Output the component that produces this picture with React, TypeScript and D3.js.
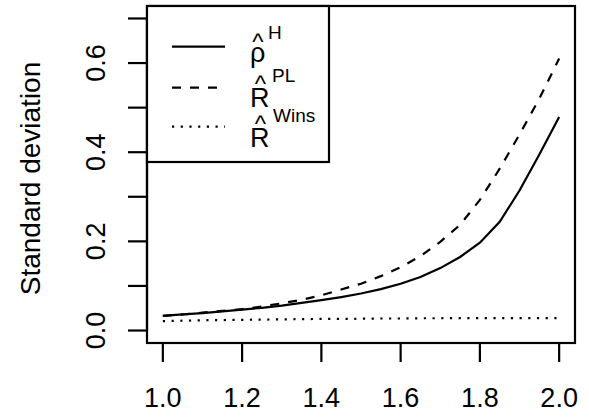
import React from "react";
import * as d3 from "d3";

// Series sampled at r = 1.00, 1.05, ..., 2.00
const rValues = [1.0, 1.05, 1.1, 1.15, 1.2, 1.25, 1.3, 1.35, 1.4, 1.45, 1.5, 1.55, 1.6, 1.65, 1.7, 1.75, 1.8, 1.85, 1.9, 1.95, 2.0];
const rhoH = [0.033, 0.036, 0.039, 0.043, 0.047, 0.051, 0.056, 0.062, 0.068, 0.075, 0.083, 0.093, 0.105, 0.12, 0.14, 0.165, 0.197, 0.244, 0.314, 0.395, 0.479];
const rPL = [0.033, 0.036, 0.04, 0.044, 0.048, 0.054, 0.061, 0.069, 0.079, 0.092, 0.105, 0.122, 0.142, 0.167, 0.199, 0.237, 0.293, 0.363, 0.44, 0.52, 0.61];
const rWins = [0.021, 0.022, 0.023, 0.0235, 0.024, 0.0245, 0.025, 0.0255, 0.026, 0.026, 0.0265, 0.027, 0.027, 0.0275, 0.0275, 0.028, 0.028, 0.028, 0.028, 0.028, 0.028];

const xTicks = [1.0, 1.2, 1.4, 1.6, 1.8, 2.0];
const yTicks = [0, 0.1, 0.2, 0.3, 0.4, 0.5, 0.6, 0.7];
const yLabeled = [0, 0.2, 0.4, 0.6];

const W = 589;
const H = 417;
const FONT = "'Liberation Sans', Arial, Helvetica, sans-serif";

// plot region
const box = { left: 147, right: 575, top: 6, bottom: 343 };

const DOTTED = "2.2,6.5";
const DASHED = "9,9";

export default function App() {
  const xDomain: [number, number] = [1.0, 2.0];
  const yDomain: [number, number] = [0, 0.7];
  const xPad = (xDomain[1] - xDomain[0]) * 0.04;
  const yPad = (yDomain[1] - yDomain[0]) * 0.04;
  const x = d3.scaleLinear().domain([xDomain[0] - xPad, xDomain[1] + xPad]).range([box.left, box.right]);
  const y = d3.scaleLinear().domain([yDomain[0] - yPad, yDomain[1] + yPad]).range([box.bottom, box.top]);

  const line = d3
    .line<[number, number]>()
    .x((d) => x(d[0]))
    .y((d) => y(d[1]));

  const series = [
    { values: rhoH, dash: undefined as string | undefined },
    { values: rPL, dash: DASHED },
    { values: rWins, dash: DOTTED },
  ];

  const tickLen = 19;
  const lw = 2.2;

  // legend geometry
  const lg = { left: box.left, top: box.top, right: 329, bottom: 162 };
  const legendRows = [
    { lineY: 46.7, dash: undefined as string | undefined, base: "ρ", baseY: 61.5, hatX: 258, hatY: 50, sup: "H", supX: 268, supY: 39 },
    { lineY: 87.7, dash: DASHED, base: "R", baseY: 106.7, hatX: 260.5, hatY: 92, sup: "PL", supX: 272, supY: 81.7 },
    { lineY: 126.7, dash: DOTTED, base: "R", baseY: 146.7, hatX: 260.5, hatY: 132, sup: "Wins", supX: 273, supY: 121.7 },
  ];

  return (
    <svg
      width={W}
      height={H}
      style={{ position: "absolute", left: 0, top: 0, background: "#fff" }}
      fontFamily={FONT}
    >
      <rect x={0} y={0} width={W} height={H} fill="#fff" />

      {/* curves */}
      {series.map((s, i) => (
        <path
          key={i}
          d={line(rValues.map((r, j) => [r, s.values[j]] as [number, number])) || ""}
          fill="none"
          stroke="#000"
          strokeWidth={lw}
          strokeDasharray={s.dash}
        />
      ))}

      {/* x axis */}
      <line x1={x(xTicks[0])} x2={x(xTicks[xTicks.length - 1])} y1={box.bottom} y2={box.bottom} stroke="#000" strokeWidth={lw} />
      {xTicks.map((t) => (
        <g key={t}>
          <line x1={x(t)} x2={x(t)} y1={box.bottom} y2={box.bottom + tickLen} stroke="#000" strokeWidth={lw} />
          <text x={x(t)} y={406.5} fontSize={27} textAnchor="middle" fill="#000">
            {t.toFixed(1)}
          </text>
        </g>
      ))}

      {/* y axis */}
      <line x1={box.left} x2={box.left} y1={y(yTicks[0])} y2={y(yTicks[yTicks.length - 1])} stroke="#000" strokeWidth={lw} />
      {yTicks.map((t) => (
        <line key={t} x1={box.left - tickLen} x2={box.left} y1={y(t)} y2={y(t)} stroke="#000" strokeWidth={lw} />
      ))}
      {yLabeled.map((t) => (
        <text
          key={t}
          transform={`translate(105,${y(t)}) rotate(-90)`}
          fontSize={27}
          textAnchor="middle"
          fill="#000"
        >
          {t.toFixed(1)}
        </text>
      ))}
      <text
        transform={`translate(40,${(box.top + box.bottom) / 2 + 4}) rotate(-90)`}
        fontSize={28}
        textAnchor="middle"
        fill="#000"
      >
        Standard deviation
      </text>

      {/* plot frame */}
      <rect
        x={box.left}
        y={box.top}
        width={box.right - box.left}
        height={box.bottom - box.top}
        fill="none"
        stroke="#000"
        strokeWidth={lw}
      />

      {/* legend */}
      <rect
        x={lg.left}
        y={lg.top}
        width={lg.right - lg.left}
        height={lg.bottom - lg.top}
        fill="#fff"
        stroke="#000"
        strokeWidth={lw}
      />
      {legendRows.map((r, i) => (
        <g key={i}>
          <line
            x1={172}
            x2={225}
            y1={r.lineY}
            y2={r.lineY}
            stroke="#000"
            strokeWidth={lw}
            strokeDasharray={r.dash}
          />
          <text x={250} y={r.baseY} fontSize={27} fill="#000">
            {r.base}
          </text>
          <text x={r.hatX} y={r.hatY} fontSize={24} textAnchor="middle" fill="#000">
            ^
          </text>
          <text x={r.supX} y={r.supY} fontSize={19} fill="#000">
            {r.sup}
          </text>
        </g>
      ))}
    </svg>
  );
}
